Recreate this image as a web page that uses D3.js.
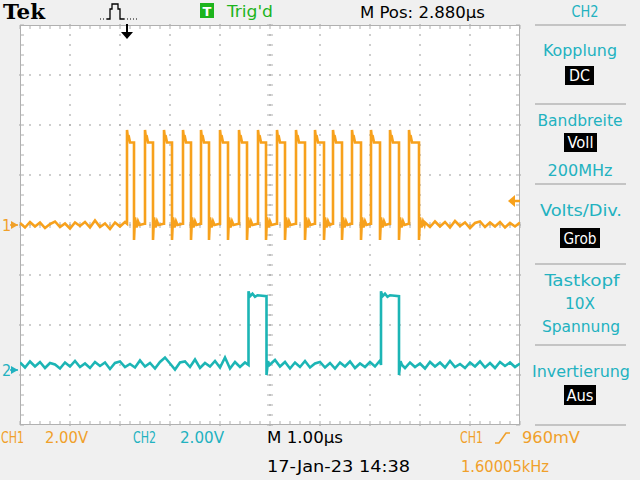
<!DOCTYPE html>
<html><head><meta charset="utf-8">
<script src="https://cdn.jsdelivr.net/npm/d3@7"></script>
<style>html,body{margin:0;padding:0;background:#f0f0f0;} svg{display:block;}</style>
</head><body><svg id="c" width="640" height="480"></svg>
<script>
const timeDomain = [0, 10];            // µs across 10 divisions, 1.00 µs/div
const voltsPerDiv = 2.0;
const ch1Position = 0;                 // divisions
const ch2Position = -2.9;              // divisions
const trigTime = 2.14;                 // µs
const trigLevel = 0.96;                // V

const ch1Rise = [2.14, 2.50, 2.88, 3.26, 3.62, 4.00, 4.38, 4.76, 5.14, 5.52, 5.90, 6.26, 6.64, 7.02, 7.40, 7.78];
const ch1Fall = [2.28, 2.66, 3.04, 3.42, 3.78, 4.16, 4.54, 4.92, 5.30, 5.70, 6.08, 6.44, 6.82, 7.20, 7.58, 7.98];
const ch1Levels = {low: 0.0, high: 3.3, over: 3.8, under: -0.6};
const ch1PreNoise = [0.08,-0.10,0.12,-0.06,0.10,-0.12,0.04,0.14,-0.08,0.06,-0.14,0.10,-0.04,0.12,-0.10,0.18,-0.08,0.06,-0.16,0.10,-0.06,0.12];
const ch1PostNoise = [0.10,-0.08,0.14,-0.06,0.12,-0.10,0.16,-0.04,0.10,-0.12,0.08,0.14,-0.08,0.10,-0.06,0.12,-0.10,0.08,-0.06,0.10];

const ch2Rise = [4.57, 7.22];
const ch2Fall = [4.93, 7.58];
const ch2Levels = {low: 0.2, high: 2.95, over: 3.15, under: -0.2};
const ch2Noise = [
 0.10,-0.10,0.14,-0.06,0.12,-0.12,0.08,0.02,-0.14,0.10,
-0.06,0.16,-0.08,0.06,-0.12,0.12,-0.04,0.10,-0.16,0.08,
 0.14,-0.08,0.04,-0.10,0.18,-0.06,0.08,-0.14,0.12,0.30,
 0.06,-0.18,0.10,0.14,-0.08,0.22,-0.12,0.08,-0.06,0.16,
-0.10,0.30,-0.14,0.12,-0.08,0.10,-0.16,0.14,-0.04,0.08,
-0.12,0.20,-0.06,0.12,-0.14,0.10,-0.08,0.16,-0.10,0.06,
 0.12,-0.10,0.08,-0.14,0.10,-0.06,0.14,-0.12,0.06,-0.08,
 0.12,-0.06,0.18,-0.10,0.08,-0.04,0.14,-0.12,0.10,-0.08,
 0.06,-0.14,0.12,-0.06,0.10,-0.10,0.16,-0.08,0.04,-0.12,
 0.10,-0.06,0.14,-0.10,0.08,-0.12,0.12,-0.04,0.10,-0.08,
 0.06];

const header = {brand: "Tek", trig: "Trig'd", mpos: "M Pos: 2.880\u00B5s", menu: "CH2"};
const menuItems = [
  {label: ["Kopplung"], box: "DC"},
  {label: ["Bandbreite"], box: "Voll", extra: "200MHz"},
  {label: ["Volts/Div."], box: "Grob"},
  {label: ["Tastkopf", "10X", "Spannung"]},
  {label: ["Invertierung"], box: "Aus"}
];
const footer = {ch1: "CH1", ch1Scale: "2.00V", ch2: "CH2", ch2Scale: "2.00V", time: "M 1.00\u00B5s",
  trigSrc: "CH1", trigLvl: "960mV", date: "17-Jan-23 14:38", freq: "1.60005kHz"};

// ---------------- drawing ----------------
const ORANGE = "#f7a11c", ORANGE_T = "#f0a02a", CYAN = "#1cb5b5", CYAN_T = "#22b2c0", GREEN = "#1db41d";
const FONT = "'DejaVu Sans Condensed','Liberation Sans Narrow','DejaVu Sans',sans-serif";
const svg = d3.select('#c');
const L = 20, R = 520, T = 25, B = 425;

const x = d3.scaleLinear().domain(timeDomain).range([L, R]);
const divs = d3.scaleLinear().domain([-4, 4]).range([B, T]);
const y1 = d3.scaleLinear().domain([(-4 - ch1Position) * voltsPerDiv, (4 - ch1Position) * voltsPerDiv]).range([B, T]);
const y2 = d3.scaleLinear().domain([(-4 - ch2Position) * voltsPerDiv, (4 - ch2Position) * voltsPerDiv]).range([B, T]);

svg.append('rect').attr('width', 640).attr('height', 480).attr('fill', '#f0f0f0');
svg.append('rect').attr('x', L).attr('y', T).attr('width', R - L).attr('height', B - T).attr('fill', '#ffffff');

// graticule
const grat = svg.append('g').attr('fill', '#a8a8a8');
const xMajor = x.ticks(10), yMajor = divs.ticks(8);
const xMinor = d3.range(timeDomain[0], timeDomain[1] + 0.001, 0.2);
const yMinor = d3.range(-4, 4.001, 0.2);
xMajor.filter(v => v > timeDomain[0] && v < timeDomain[1]).forEach(v => {
  yMinor.forEach(d => grat.append('rect').attr('x', x(v) - 0.75).attr('y', divs(d) - 0.75).attr('width', 1.5).attr('height', 1.5));
});
yMajor.filter(v => v > -4 && v < 4).forEach(v => {
  xMinor.forEach(t => grat.append('rect').attr('x', x(t) - 0.75).attr('y', divs(v) - 0.75).attr('width', 1.5).attr('height', 1.5));
});
const tk = svg.append('g').attr('stroke', '#b0b0b0').attr('stroke-width', 1);
yMinor.forEach(d => tk.append('line').attr('x1', x(5) - 3).attr('x2', x(5) + 3).attr('y1', divs(d)).attr('y2', divs(d)));
xMinor.forEach(t => tk.append('line').attr('x1', x(t)).attr('x2', x(t)).attr('y1', divs(0) - 3).attr('y2', divs(0) + 3));
tk.append('rect').attr('x', L + 0.5).attr('y', T + 0.5).attr('width', R - L - 1).attr('height', B - T - 1).attr('fill', 'none');
xMinor.forEach(t => {
  tk.append('line').attr('x1', x(t)).attr('x2', x(t)).attr('y1', T).attr('y2', T + 4);
  tk.append('line').attr('x1', x(t)).attr('x2', x(t)).attr('y1', B - 4).attr('y2', B);
});
yMinor.forEach(d => {
  tk.append('line').attr('x1', L).attr('x2', L + 4).attr('y1', divs(d)).attr('y2', divs(d));
  tk.append('line').attr('x1', R - 4).attr('x2', R).attr('y1', divs(d)).attr('y2', divs(d));
});

// ---- traces ----
function ch1Points() {
  const lv = ch1Levels, pts = [];
  ch1PreNoise.forEach((n, i) => pts.push([i * 0.1, lv.low + n]));
  ch1Rise.forEach((r, k) => {
    const f = ch1Fall[k];
    pts.push([r, lv.low + 0.05], [r, lv.over], [r + 0.02, lv.high + 0.15], [r + 0.04, lv.high + 0.2], [r + 0.06, lv.high], [f, lv.high]);
    pts.push([f, lv.under], [f + 0.02, lv.low + 0.3], [f + 0.05, lv.low - 0.1], [f + 0.08, lv.low + 0.15], [f + 0.11, lv.low]);
    if (k < ch1Rise.length - 1) pts.push([ch1Rise[k + 1] - 0.01, lv.low + 0.05]);
  });
  ch1PostNoise.forEach((n, i) => pts.push([8.1 + i * 0.1, lv.low + n]));
  return pts;
}
function ch2Points() {
  const lv = ch2Levels, pts = [];
  let p = 0, skip = -1;
  ch2Noise.forEach((n, i) => {
    const t = i * 0.1;
    while (p < ch2Rise.length && t >= ch2Rise[p]) {
      const r = ch2Rise[p], f = ch2Fall[p];
      pts.push([r, lv.low], [r, lv.over], [r + 0.03, lv.high], [r + 0.08, lv.high + 0.1], [r + 0.13, lv.high - 0.02],
               [r + 0.18, lv.high + 0.04], [f, lv.high], [f, lv.under], [f + 0.03, lv.low + 0.15], [f + 0.06, lv.low]);
      skip = f + 0.08; p++;
    }
    if (t > skip) pts.push([t, lv.low + n]);
  });
  return pts;
}
svg.append('clipPath').attr('id', 'pc').append('rect').attr('x', L).attr('y', T).attr('width', R - L).attr('height', B - T);
svg.append('path').datum(ch2Points()).attr('clip-path', 'url(#pc)')
  .attr('d', d3.line().x(d => x(d[0])).y(d => y2(d[1])))
  .attr('fill', 'none').attr('stroke', CYAN).attr('stroke-width', 2.6);
svg.append('path').datum(ch1Points()).attr('clip-path', 'url(#pc)')
  .attr('d', d3.line().x(d => x(d[0])).y(d => y1(d[1])))
  .attr('fill', 'none').attr('stroke', ORANGE).attr('stroke-width', 2.6);

// ---- text helper ----
function txt(s, xx, yy, opts) {
  const o = Object.assign({fill: '#000', size: 16, anchor: 'start', family: FONT, weight: 'normal'}, opts || {});
  let ax = xx, anchor = o.anchor;
  if (o.len && anchor === 'middle') { ax = xx - o.len / 2; anchor = 'start'; }
  const t = svg.append('text').attr('x', ax).attr('y', yy).text(s).attr('fill', o.fill)
    .attr('font-size', o.size).attr('font-family', o.family).attr('text-anchor', anchor).attr('font-weight', o.weight);
  if (o.len) t.attr('textLength', o.len).attr('lengthAdjust', 'spacingAndGlyphs');
  return t;
}

// channel ground markers
function marker(label, yy, col) {
  txt(label, 2, yy + 6, {fill: col, size: 16});
  svg.append('path').attr('d', `M11,${yy - 4} L18,${yy} L11,${yy + 4} Z`).attr('fill', col);
  svg.append('line').attr('x1', 10).attr('x2', 18).attr('y1', yy).attr('y2', yy).attr('stroke', col).attr('stroke-width', 1.5);
}
marker('1', y1(0), ORANGE_T);
marker('2', y2(0), CYAN_T);

// trigger level arrow (right)
const tl = y1(trigLevel);
svg.append('path').attr('d', `M${R - 12},${tl} L${R - 5},${tl - 6} L${R - 5},${tl + 6} Z`).attr('fill', ORANGE);
svg.append('line').attr('x1', R - 8).attr('x2', R).attr('y1', tl).attr('y2', tl).attr('stroke', ORANGE).attr('stroke-width', 2.5);

// trigger time arrow (top)
const tx = x(trigTime);
svg.append('line').attr('x1', tx).attr('x2', tx).attr('y1', 24).attr('y2', 34).attr('stroke', '#000').attr('stroke-width', 2);
svg.append('path').attr('d', `M${tx - 6},${32} L${tx + 6},${32} L${tx},${39} Z`).attr('fill', '#000');

// ---- header ----
txt(header.brand, 3, 19, {family: "'DejaVu Serif','Liberation Serif',serif", weight: 'bold', size: 21, len: 42});
svg.append('path').attr('d', 'M100,19 H108 M124,19 H137').attr('stroke', '#000').attr('stroke-width', 1).attr('stroke-dasharray', '1,2').attr('fill', 'none');
svg.append('path').attr('d', 'M107,19 H110 V9 H112 V4 H118 V9 H120 V19 H124').attr('stroke', '#000').attr('stroke-width', 1.3).attr('fill', 'none');
svg.append('rect').attr('x', 200).attr('y', 3).attr('width', 14).attr('height', 15).attr('fill', GREEN);
txt('T', 207, 15.5, {fill: '#fff', size: 13, anchor: 'middle', weight: 'bold', family: "'DejaVu Sans',sans-serif"});
txt(header.trig, 227, 17, {fill: GREEN, size: 16, len: 46});
txt(header.mpos, 360, 18, {size: 16, len: 125});
txt(header.menu, 585, 17, {fill: CYAN_T, size: 16, anchor: 'middle', len: 27});

// ---- right menu ----
const sepColor = '#c4c4c4';
function sep(yy) { svg.append('line').attr('x1', 535).attr('x2', 626).attr('y1', yy).attr('y2', yy).attr('stroke', sepColor).attr('stroke-width', 2); }
function box(label, x0, y0, w, h, base, len) {
  svg.append('rect').attr('x', x0).attr('y', y0).attr('width', w).attr('height', h).attr('fill', '#000');
  txt(label, x0 + w / 2, base, {fill: '#fff', size: 16, anchor: 'middle', len: len});
}
sep(25);
txt(menuItems[0].label[0], 580, 56, {fill: CYAN_T, anchor: 'middle', len: 74});
box(menuItems[0].box, 565, 66, 29, 19, 81, 21);
sep(104);
txt(menuItems[1].label[0], 580, 126, {fill: CYAN_T, anchor: 'middle', len: 85});
box(menuItems[1].box, 564, 133, 33, 19, 148, 26);
txt(menuItems[1].extra, 580, 176, {fill: CYAN_T, anchor: 'middle', len: 65});
sep(184);
txt(menuItems[2].label[0], 581, 216, {fill: CYAN_T, anchor: 'middle', len: 82});
box(menuItems[2].box, 560, 228, 40, 20, 244, 33);
sep(264);
txt(menuItems[3].label[0], 582, 286, {fill: CYAN_T, anchor: 'middle', len: 75});
txt(menuItems[3].label[1], 580, 309, {fill: CYAN_T, anchor: 'middle', len: 30});
txt(menuItems[3].label[2], 581, 332, {fill: CYAN_T, anchor: 'middle', len: 78});
sep(345);
txt(menuItems[4].label[0], 581, 377, {fill: CYAN_T, anchor: 'middle', len: 98});
box(menuItems[4].box, 564, 385, 32, 20, 401, 27);
sep(425);

// ---- footer ----
txt(footer.ch1, 1, 443, {fill: ORANGE_T, len: 23});
txt(footer.ch1Scale, 45, 443, {fill: ORANGE_T, len: 43});
txt(footer.ch2, 133, 443, {fill: CYAN_T, len: 23});
txt(footer.ch2Scale, 180, 443, {fill: CYAN_T, len: 44});
txt(footer.time, 267, 443, {len: 76});
txt(footer.trigSrc, 460, 443, {fill: ORANGE_T, len: 23});
svg.append('path').attr('d', 'M495,443 H499 L506,433 H510').attr('stroke', ORANGE_T).attr('stroke-width', 1.6).attr('fill', 'none');
txt(footer.trigLvl, 522, 443, {fill: ORANGE_T, len: 58});
txt(footer.date, 267, 472, {len: 143});
txt(footer.freq, 461, 472, {fill: ORANGE_T, len: 88});
</script></body></html>
